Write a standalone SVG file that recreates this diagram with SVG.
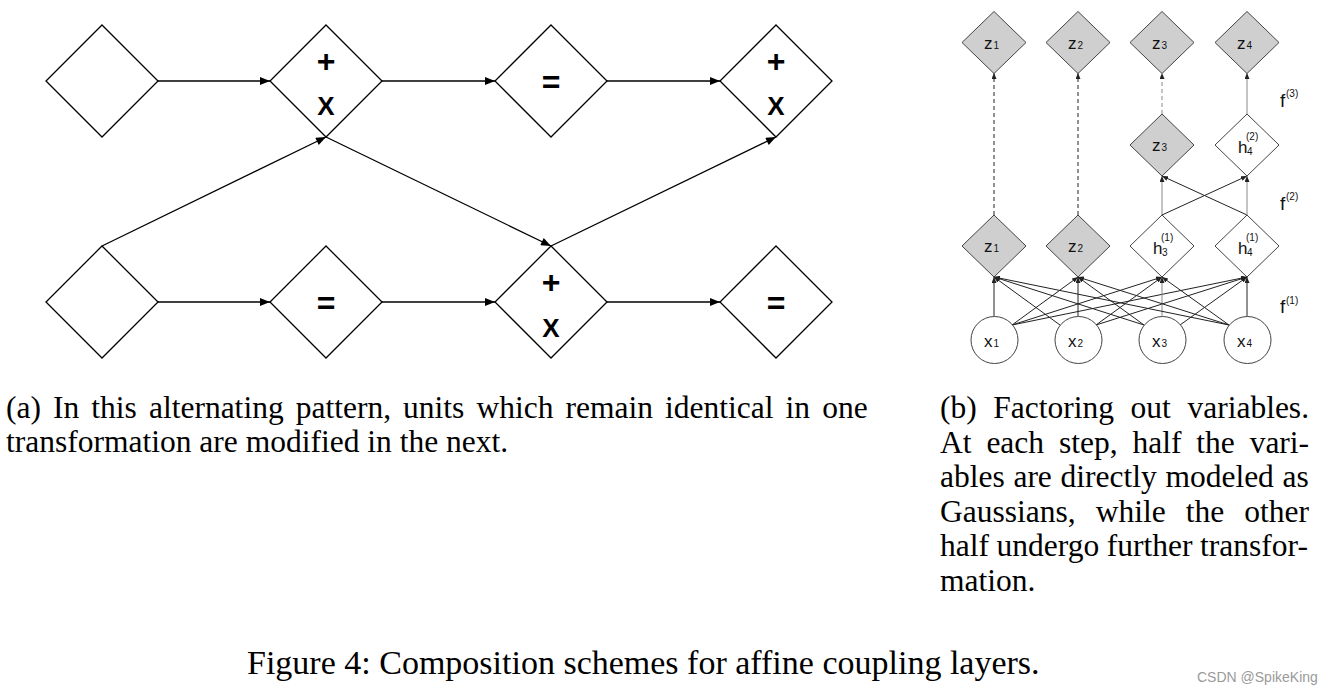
<svg xmlns="http://www.w3.org/2000/svg" width="1332" height="692" viewBox="0 0 1332 692">
<style>
.bg{fill:#fff}
.da{fill:#fff;stroke:#000;stroke-width:1.3}
.ca{stroke:#000;stroke-width:1.3;fill:none;marker-end:url(#arrA)}
.sym{font-family:"Liberation Sans",Arial,sans-serif;font-weight:bold;text-anchor:middle;fill:#000}
.plus{font-size:32px}
.eq{font-size:32px}
.ex{font-size:26px}
.dg{fill:#cfcfcf;stroke:#444;stroke-width:1}
.dw{fill:#fff;stroke:#444;stroke-width:1}
.cir{fill:#fff;stroke:#444;stroke-width:1}
.lb{font-family:"Liberation Sans",Arial,sans-serif;font-size:17px;fill:#111}
.sm{font-size:10px}
.cb{stroke:#222;stroke-width:1;fill:none;marker-end:url(#arrB)}
.cg{stroke:#888;stroke-width:1;fill:none;marker-end:url(#arrB)}
.dash{stroke-dasharray:4 3}
.fl{font-family:"Liberation Sans",Arial,sans-serif;font-size:19px;fill:#111}
.fs{font-size:10px}
.cap{font-family:"Liberation Serif","Times New Roman",serif;font-size:31.5px;fill:#000}
.fig{font-family:"Liberation Serif","Times New Roman",serif;font-size:34px;fill:#000}
.wm{font-family:"Liberation Sans",Arial,sans-serif;font-size:14px;fill:#9a9a9a}
</style>
<defs>
<marker id="arrA" viewBox="0 0 10 8" refX="10" refY="4" markerWidth="11" markerHeight="8" markerUnits="userSpaceOnUse" orient="auto"><path d="M0,0 L10,4 L0,8 z" fill="#000"/></marker>
<marker id="arrB" viewBox="0 0 6 5" refX="6" refY="2.5" markerWidth="6" markerHeight="5" markerUnits="userSpaceOnUse" orient="auto"><path d="M0,0 L6,2.5 L0,5 z" fill="#222"/></marker>
</defs>
<rect class="bg" x="0" y="0" width="1332" height="692"/>

<!-- Panel (a) connectors -->
<g id="connectors-a">
<line class="ca" x1="158" y1="81" x2="270" y2="81"/>
<line class="ca" x1="382" y1="81" x2="495" y2="81"/>
<line class="ca" x1="607" y1="81" x2="720" y2="81"/>
<line class="ca" x1="158" y1="302" x2="270" y2="302"/>
<line class="ca" x1="382" y1="302" x2="495" y2="302"/>
<line class="ca" x1="607" y1="302" x2="720" y2="302"/>
<line class="ca" x1="102" y1="246" x2="326" y2="137"/>
<line class="ca" x1="326" y1="137" x2="551" y2="246"/>
<line class="ca" x1="551" y1="246" x2="776" y2="137"/>
</g>

<!-- Panel (a) nodes -->
<g id="a-top1"><polygon class="da" points="102,25 158,81 102,137 46,81"/></g>
<g id="a-top2"><polygon class="da" points="326,25 382,81 326,137 270,81"/>
<text class="sym plus" x="326" y="72">+</text><text class="sym ex" x="326" y="115">X</text></g>
<g id="a-top3"><polygon class="da" points="551,25 607,81 551,137 495,81"/>
<text class="sym eq" x="551" y="93">=</text></g>
<g id="a-top4"><polygon class="da" points="776,25 832,81 776,137 720,81"/>
<text class="sym plus" x="776" y="72">+</text><text class="sym ex" x="776" y="115">X</text></g>
<g id="a-bot1"><polygon class="da" points="102,246 158,302 102,358 46,302"/></g>
<g id="a-bot2"><polygon class="da" points="326,246 382,302 326,358 270,302"/>
<text class="sym eq" x="326" y="314">=</text></g>
<g id="a-bot3"><polygon class="da" points="551,246 607,302 551,358 495,302"/>
<text class="sym plus" x="551" y="293">+</text><text class="sym ex" x="551" y="337">X</text></g>
<g id="a-bot4"><polygon class="da" points="776,246 832,302 776,358 720,302"/>
<text class="sym eq" x="776" y="314">=</text></g>

<!-- Panel (b) connectors -->
<g id="connectors-b">
<line class="cb dash" x1="994" y1="215" x2="994" y2="73"/>
<line class="cb dash" x1="1078" y1="215" x2="1078" y2="73"/>
<line class="cg dash" x1="1162" y1="114" x2="1162" y2="73"/>
<line class="cg" x1="1247" y1="114" x2="1247" y2="73"/>
<line class="cg" x1="1162" y1="215" x2="1162" y2="176"/>
<line class="cb" x1="1162" y1="215" x2="1247" y2="176"/>
<line class="cb" x1="1247" y1="215" x2="1162" y2="176"/>
<line class="cg" x1="1247" y1="215" x2="1247" y2="176"/>
<!-- from x1 -->
<line class="cb" x1="994" y1="316.5" x2="994" y2="277"/>
<line class="cb" x1="1012" y1="325" x2="1078" y2="277"/>
<line class="cb" x1="1012" y1="325" x2="1162" y2="277"/>
<line class="cb" x1="1012" y1="325" x2="1247" y2="277"/>
<!-- from x2 -->
<line class="cb" x1="1060" y1="325" x2="994" y2="277"/>
<line class="cb" x1="1078" y1="316.5" x2="1078" y2="277"/>
<line class="cb" x1="1096" y1="325" x2="1162" y2="277"/>
<line class="cb" x1="1096" y1="325" x2="1247" y2="277"/>
<!-- from x3 -->
<line class="cb" x1="1144" y1="325" x2="994" y2="277"/>
<line class="cb" x1="1144" y1="325" x2="1078" y2="277"/>
<line class="cg" x1="1162" y1="316.5" x2="1162" y2="277"/>
<line class="cb" x1="1180" y1="325" x2="1247" y2="277"/>
<!-- from x4 -->
<line class="cb" x1="1229" y1="325" x2="994" y2="277"/>
<line class="cb" x1="1229" y1="325" x2="1078" y2="277"/>
<line class="cb" x1="1229" y1="325" x2="1162" y2="277"/>
<line class="cb" x1="1247" y1="316.5" x2="1247" y2="277"/>
</g>

<!-- Panel (b) nodes: top row -->
<g id="b-z1-top"><polygon class="dg" points="994,11.5 1026,42.5 994,73.5 962,42.5"/>
<text class="lb" x="984" y="48.5">z<tspan class="sm" dx="1">1</tspan></text></g>
<g id="b-z2-top"><polygon class="dg" points="1078,11.5 1110,42.5 1078,73.5 1046,42.5"/>
<text class="lb" x="1068" y="48.5">z<tspan class="sm" dx="1">2</tspan></text></g>
<g id="b-z3-top"><polygon class="dg" points="1162,11.5 1194,42.5 1162,73.5 1130,42.5"/>
<text class="lb" x="1152" y="48.5">z<tspan class="sm" dx="1">3</tspan></text></g>
<g id="b-z4-top"><polygon class="dg" points="1247,11.5 1279,42.5 1247,73.5 1215,42.5"/>
<text class="lb" x="1237" y="48.5">z<tspan class="sm" dx="1">4</tspan></text></g>

<!-- middle row -->
<g id="b-z3-mid"><polygon class="dg" points="1162,114 1194,145 1162,176 1130,145"/>
<text class="lb" x="1152" y="151">z<tspan class="sm" dx="1">3</tspan></text></g>
<g id="b-h4-2"><polygon class="dw" points="1247,114 1279,145 1247,176 1215,145"/>
<text class="lb" x="1238" y="153">h<tspan class="sm" x="1246" y="140">(2)</tspan><tspan class="sm" x="1247" y="155">4</tspan></text></g>

<!-- bottom diamond row -->
<g id="b-z1-bot"><polygon class="dg" points="994,215 1026,246 994,277 962,246"/>
<text class="lb" x="984" y="252">z<tspan class="sm" dx="1">1</tspan></text></g>
<g id="b-z2-bot"><polygon class="dg" points="1078,215 1110,246 1078,277 1046,246"/>
<text class="lb" x="1068" y="252">z<tspan class="sm" dx="1">2</tspan></text></g>
<g id="b-h3-1"><polygon class="dw" points="1162,215 1194,246 1162,277 1130,246"/>
<text class="lb" x="1153" y="254">h<tspan class="sm" x="1161" y="241">(1)</tspan><tspan class="sm" x="1162" y="256">3</tspan></text></g>
<g id="b-h4-1"><polygon class="dw" points="1247,215 1279,246 1247,277 1215,246"/>
<text class="lb" x="1238" y="254">h<tspan class="sm" x="1246" y="241">(1)</tspan><tspan class="sm" x="1247" y="256">4</tspan></text></g>

<!-- circles -->
<g id="b-x1"><circle class="cir" cx="994.5" cy="340" r="23.5"/>
<text class="lb" x="984" y="347">x<tspan class="sm" dx="1">1</tspan></text></g>
<g id="b-x2"><circle class="cir" cx="1078.5" cy="340" r="23.5"/>
<text class="lb" x="1068" y="347">x<tspan class="sm" dx="1">2</tspan></text></g>
<g id="b-x3"><circle class="cir" cx="1162.5" cy="340" r="23.5"/>
<text class="lb" x="1152" y="347">x<tspan class="sm" dx="1">3</tspan></text></g>
<g id="b-x4"><circle class="cir" cx="1247.5" cy="340" r="23.5"/>
<text class="lb" x="1237" y="347">x<tspan class="sm" dx="1">4</tspan></text></g>

<!-- f labels -->
<text class="fl" x="1280" y="107">f<tspan class="fs" x="1286" y="97">(3)</tspan></text>
<text class="fl" x="1280" y="210">f<tspan class="fs" x="1286" y="200">(2)</tspan></text>
<text class="fl" x="1280" y="313">f<tspan class="fs" x="1286" y="304">(1)</tspan></text>

<!-- captions -->
<text class="cap" x="6" y="418" word-spacing="4.2">(a) In this alternating pattern, units which remain identical in one</text>
<text class="cap" x="6" y="452">transformation are modified in the next.</text>

<text class="cap" x="940" y="418" word-spacing="8.7">(b) Factoring out variables.</text>
<text class="cap" x="940" y="452.5" word-spacing="7">At each step, half the vari-</text>
<text class="cap" x="940" y="487" word-spacing="0.8">ables are directly modeled as</text>
<text class="cap" x="940" y="521.5" word-spacing="12.2">Gaussians, while the other</text>
<text class="cap" x="940" y="556" word-spacing="-0.3">half undergo further transfor-</text>
<text class="cap" x="940" y="590.5">mation.</text>

<text class="fig" x="247" y="674">Figure 4: Composition schemes for affine coupling layers.</text>
<text class="wm" x="1197" y="682">CSDN @SpikeKing</text>
</svg>
